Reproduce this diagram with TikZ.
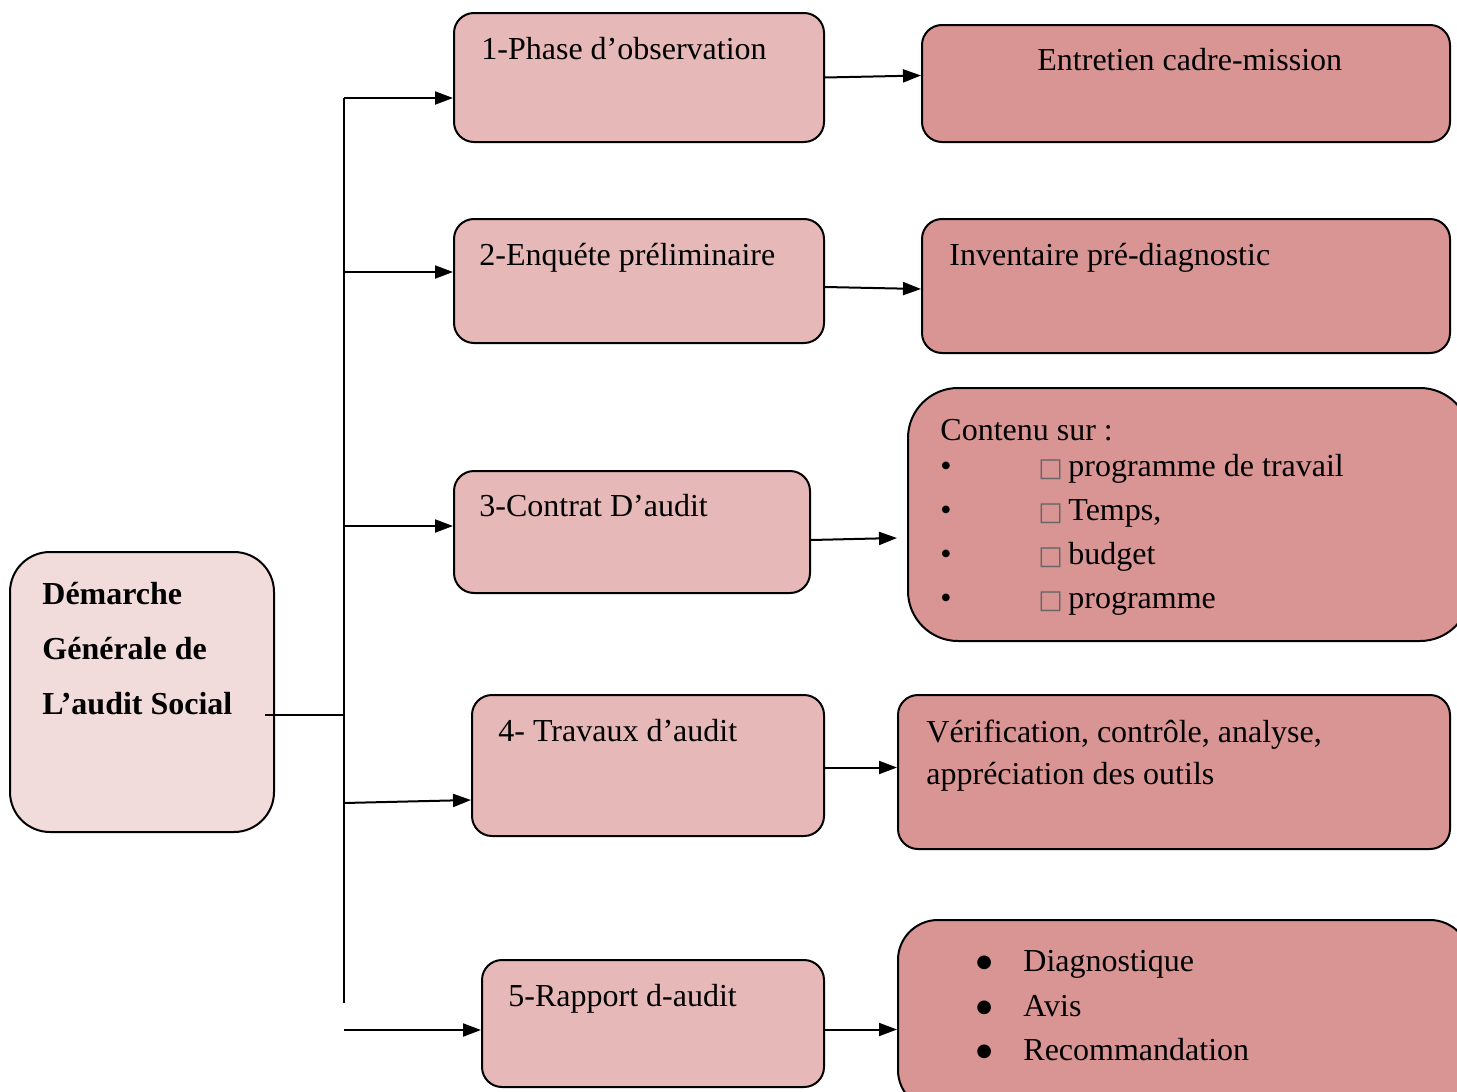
\documentclass[tikz,border=0pt]{standalone}
\usepackage{fontspec}
\setmainfont{Liberation Serif}
\newfontfamily\symfont{DejaVu Sans}
\usetikzlibrary{arrows.meta}
\definecolor{rootfill}{HTML}{F2DCDB}
\definecolor{stepfill}{HTML}{E6B8B7}
\definecolor{infofill}{HTML}{D99594}
\newcommand{\sqb}{{\symfont\fontsize{13}{13}\selectfont\color{black!60}□}}
\newcommand{\bigdot}{\raisebox{2pt}{\symfont\fontsize{9}{9}\selectfont ●}}
\begin{document}
\begin{tikzpicture}[x=0.5pt,y=-0.5pt,
  box/.style={draw,line width=1pt,rounded corners=10pt,inner sep=0pt},
  stepbox/.style={box,fill=stepfill},
  infobox/.style={box,fill=infofill},
  txt/.style={anchor=base west,inner sep=0pt,font=\fontsize{16}{19}\selectfont},
  arr/.style={line width=1pt,-{Triangle[length=9pt,width=6.5pt]}}]
\useasboundingbox (0,0) rectangle (1457,1092);
\node[box,fill=rootfill,rounded corners=20pt,minimum width=132pt,minimum height=140pt] (root) at (142,692) {};
\node[stepbox,minimum width=185pt,minimum height=64.5pt] (b1) at (639,77.5) {};
\node[stepbox,minimum width=185pt,minimum height=62pt] (b2) at (639,281) {};
\node[stepbox,minimum width=178pt,minimum height=61pt] (b3) at (632,532) {};
\node[stepbox,minimum width=176pt,minimum height=70.5pt] (b4) at (648,765.5) {};
\node[stepbox,minimum width=171pt,minimum height=63.5pt] (b5) at (653,1023.5) {};
\node[infobox,minimum width=264pt,minimum height=58.5pt] (r1) at (1186,83.5) {};
\node[infobox,minimum width=264pt,minimum height=67pt] (r2) at (1186,286) {};
\node[infobox,rounded corners=25pt,minimum width=281pt,minimum height=126.5pt] (r3) at (1189,514.5) {};
\node[infobox,minimum width=276pt,minimum height=77pt] (r4) at (1174,772) {};
\node[infobox,rounded corners=20pt,minimum width=286pt,minimum height=95pt] (r5) at (1184,1015) {};
\node[txt,font=\fontsize{16}{19}\selectfont\bfseries] (root1) at (42,604) {Démarche};
\node[txt,font=\fontsize{16}{19}\selectfont\bfseries] (root2) at (42,659) {Générale de};
\node[txt,font=\fontsize{16}{19}\selectfont\bfseries] (root3) at (42,714) {L’audit Social};
\node[txt] (t1) at (481,59) {1-Phase d’observation};
\node[txt] (t2) at (479,265) {2-Enquéte préliminaire};
\node[txt] (t3) at (479,516) {3-Contrat D’audit};
\node[txt] (t4) at (498,741) {4- Travaux d’audit};
\node[txt] (t5) at (508,1006) {5-Rapport d-audit};
\node[txt] (u1) at (1037,70) {Entretien cadre-mission};
\node[txt] (u2) at (949,265) {Inventaire pré-diagnostic};
\node[txt] (u3) at (940,440) {Contenu sur :};
\node[txt] (u31) at (940,476) {\makebox[49pt][l]{•}\makebox[15pt][l]{\sqb}programme de travail};
\node[txt] (u32) at (940,520) {\makebox[49pt][l]{•}\makebox[15pt][l]{\sqb}Temps,};
\node[txt] (u33) at (940,564) {\makebox[49pt][l]{•}\makebox[15pt][l]{\sqb}budget};
\node[txt] (u34) at (940,608) {\makebox[49pt][l]{•}\makebox[15pt][l]{\sqb}programme};
\node[txt] (u41) at (926,742) {Vérification, contrôle, analyse,};
\node[txt] (u42) at (926,784) {appréciation des outils};
\node[txt] (u51) at (976,971) {\makebox[23.5pt][l]{\bigdot}Diagnostique};
\node[txt] (u52) at (976,1016) {\makebox[23.5pt][l]{\bigdot}Avis};
\node[txt] (u53) at (976,1060) {\makebox[23.5pt][l]{\bigdot}Recommandation};
\coordinate (s1) at (344,98);
\coordinate (s2) at (344,272);
\coordinate (s3) at (344,526);
\coordinate (s4) at (344,803);
\coordinate (s5) at (344,1030);
\coordinate (sj) at (344,715);
\coordinate (send) at (344,1003);
\draw[line width=1pt] (s1) -- (send);
\draw[line width=1pt] ([xshift=-5pt]root.east |- sj) -- (sj);
\draw[arr] (s1) -- (s1 -| b1.west);
\draw[arr] (s2) -- (s2 -| b2.west);
\draw[arr] (s3) -- (s3 -| b3.west);
\draw[arr] (s4) -- ([yshift=1.5pt]s4 -| b4.west);
\draw[arr] (s5) -- (s5 -| b5.west);
\draw[arr] (b1.east) -- ([yshift=1pt]b1.east -| r1.west);
\draw[arr] ([yshift=-3pt]b2.east) -- ([yshift=-4pt]b2.east -| r2.west);
\draw[arr] ([yshift=-4pt]b3.east) -- ([xshift=-5pt,yshift=-3pt]b3.east -| r3.west);
\draw[arr] ([yshift=-1pt]b4.east) -- ([yshift=-1pt]b4.east -| r4.west);
\draw[arr] ([yshift=-3pt]b5.east) -- ([yshift=-3pt]b5.east -| r5.west);
\end{tikzpicture}
\end{document}
